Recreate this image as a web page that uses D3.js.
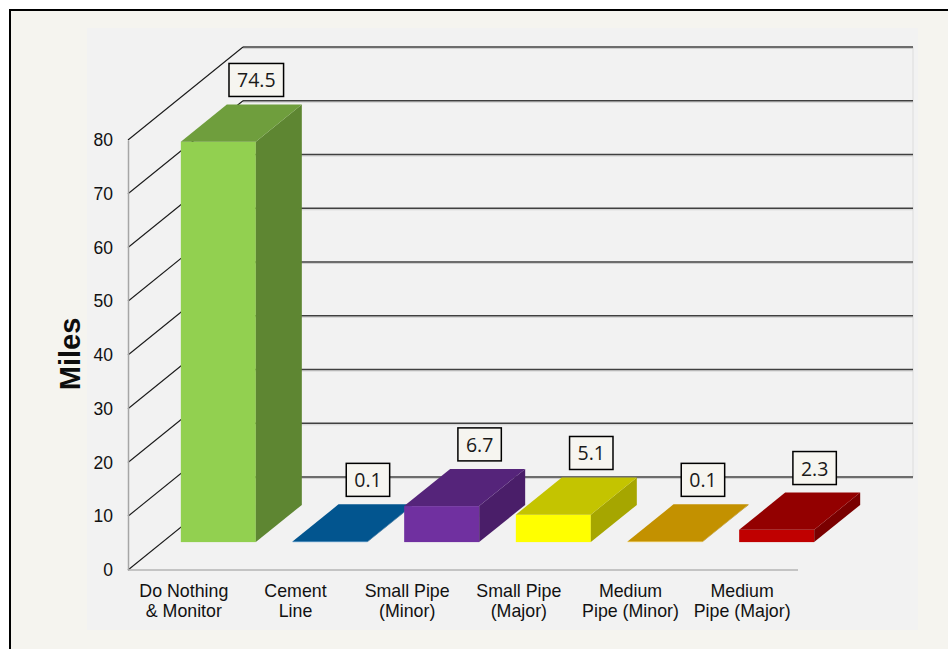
<!DOCTYPE html>
<html>
<head>
<meta charset="utf-8">
<script src="https://cdn.jsdelivr.net/npm/d3@7"></script>
<style>
  html, body { margin: 0; padding: 0; background: #ffffff; }
  svg { display: block; }
</style>
</head>
<body>
<svg id="chart" width="948" height="649"></svg>
<script>
// ---- data ----
const categories = [
  ["Do Nothing", "& Monitor"],
  ["Cement", "Line"],
  ["Small Pipe", "(Minor)"],
  ["Small Pipe", "(Major)"],
  ["Medium", "Pipe (Minor)"],
  ["Medium", "Pipe (Major)"]
];
const values = [74.5, 0.1, 6.7, 5.1, 0.1, 2.3];
const valueLabels = ["74.5", "0.1", "6.7", "5.1", "0.1", "2.3"];
const yTicks = [0, 10, 20, 30, 40, 50, 60, 70, 80];
const axisTitle = "Miles";

// ---- palette (front / top / side) ----
const frontColors = ["#92d050", "#0070c0", "#7030a0", "#ffff00", "#ffc000", "#c00000"];
const topColors   = ["#6f9e3d", "#02558f", "#55247a", "#c4c400", "#c39100", "#930000"];
const sideColors  = ["#5e8632", "#02477a", "#4a1e69", "#a6a600", "#a67c00", "#7a0000"];

// ---- layout ----
const svg = d3.select("#chart");
const DX = 115, DY = 93;          // depth offset of the 3D box
const dFront = 0.3, dDepth = 0.4; // bars occupy depth 0.3..0.7
const idx = d3.range(values.length);

const x = d3.scaleBand().domain(idx).range([128, 798]).paddingInner(0.3284).paddingOuter(0.1642);
const y = d3.scaleLinear().domain([0, 80]).range([570, 140]);

// page frame
svg.append("rect").attr("x", 0).attr("y", 0).attr("width", 948).attr("height", 649).attr("fill", "#ffffff");
svg.append("rect").attr("x", 10).attr("y", 10).attr("width", 960).attr("height", 660)
  .attr("fill", "#f5f4ef").attr("stroke", "#000").attr("stroke-width", 2);
// plot area
svg.append("rect").attr("x", 87).attr("y", 28).attr("width", 831).attr("height", 602).attr("fill", "#f2f2f2");

// back wall right edge
svg.append("line").attr("x1", 798 + DX).attr("x2", 798 + DX)
  .attr("y1", y(80) - DY).attr("y2", y(0) - DY).attr("stroke", "#dcdcdc").attr("stroke-width", 1);

// gridlines: diagonal on side wall + horizontal on back wall
const grid = svg.append("g");
yTicks.forEach(t => {
  const yf = y(t), yb = y(t) - DY;
  grid.append("line").attr("x1", 128 + DX).attr("x2", 798 + DX).attr("y1", yb + 1.5).attr("y2", yb + 1.5)
    .attr("stroke", "#cfcfcf").attr("stroke-width", 1);
  grid.append("line").attr("x1", 128 + DX).attr("x2", 798 + DX).attr("y1", yb).attr("y2", yb)
    .attr("stroke", "#404040").attr("stroke-width", 1.6);
  grid.append("line").attr("x1", 128).attr("x2", 128 + DX).attr("y1", yf).attr("y2", yb)
    .attr("stroke", "#1a1a1a").attr("stroke-width", 1.1);
});

// floor front edge
svg.append("line").attr("x1", 128).attr("x2", 798).attr("y1", y(0)).attr("y2", y(0))
  .attr("stroke", "#b4b4b4").attr("stroke-width", 1.5);

// y axis on the front
const yAxis = svg.append("g").attr("transform", "translate(128,0)")
  .call(d3.axisLeft(y).tickValues(yTicks).tickSize(0).tickPadding(15).tickFormat(d3.format("d")));
yAxis.select(".domain").attr("stroke", "#a6a6a6").attr("stroke-width", 1.5);
yAxis.selectAll("text").attr("font-family", "'Liberation Sans', Arial, sans-serif")
  .attr("font-size", 17.5).attr("fill", "#111");

// axis title
svg.append("text").attr("transform", "translate(80,354) rotate(-90)")
  .attr("text-anchor", "middle").attr("font-family", "'Liberation Sans', Arial, sans-serif")
  .attr("font-weight", "bold").attr("font-size", 29).attr("fill", "#0d0d0d").text(axisTitle);

// category labels
const catG = svg.append("g");
idx.forEach(i => {
  const cx = x(i) + x.bandwidth() / 2;
  const t = catG.append("text").attr("text-anchor", "middle")
    .attr("font-family", "'Liberation Sans', Arial, sans-serif").attr("font-size", 17.8).attr("fill", "#111");
  categories[i].forEach((line, k) => {
    t.append("tspan").attr("x", cx).attr("y", 597 + k * 20).text(line);
  });
});

// bars
const bw = x.bandwidth();
const ddx = DX * dDepth, ddy = DY * dDepth;
const barG = svg.append("g");
const geo = idx.map(i => {
  const left = x(i) + DX * dFront;
  const right = left + bw;
  const bottom = y(0) - DY * dFront;
  const top = y(values[i]) - DY * dFront;
  return { left, right, bottom, top };
});
idx.forEach(i => {
  const g = geo[i];
  barG.append("rect").attr("x", g.left).attr("y", g.top).attr("width", bw).attr("height", Math.max(0, g.bottom - g.top))
    .attr("fill", frontColors[i]);
  barG.append("polygon").attr("points", [
    [g.right, g.top], [g.right + ddx, g.top - ddy], [g.right + ddx, g.bottom - ddy], [g.right, g.bottom]
  ].map(p => p.join(",")).join(" ")).attr("fill", sideColors[i]);
  barG.append("polygon").attr("points", [
    [g.left, g.top], [g.right, g.top], [g.right + ddx, g.top - ddy], [g.left + ddx, g.top - ddy]
  ].map(p => p.join(",")).join(" ")).attr("fill", topColors[i]);
});

// value labels
const labG = svg.append("g");
idx.forEach(i => {
  const g = geo[i];
  const cx = (g.left + g.right) / 2 + DX * 0.33;
  const boxBottom = g.top - ddy - 8;
  const boxTop = boxBottom - 33;
  const grp = labG.append("g");
  const rect = grp.append("rect");
  const txt = grp.append("text").attr("x", cx).attr("y", boxTop + 24).attr("text-anchor", "middle")
    .attr("font-family", "'Open Sans', sans-serif").attr("font-size", 19.5).attr("fill", "#1a1a1a")
    .text(valueLabels[i]);
  const w = txt.node().getComputedTextLength() + 16;
  rect.attr("x", cx - w / 2).attr("y", boxTop).attr("width", w).attr("height", 33)
    .attr("fill", "#f6f5f0").attr("stroke", "#000").attr("stroke-width", 1.5);
});
</script>
</body>
</html>
